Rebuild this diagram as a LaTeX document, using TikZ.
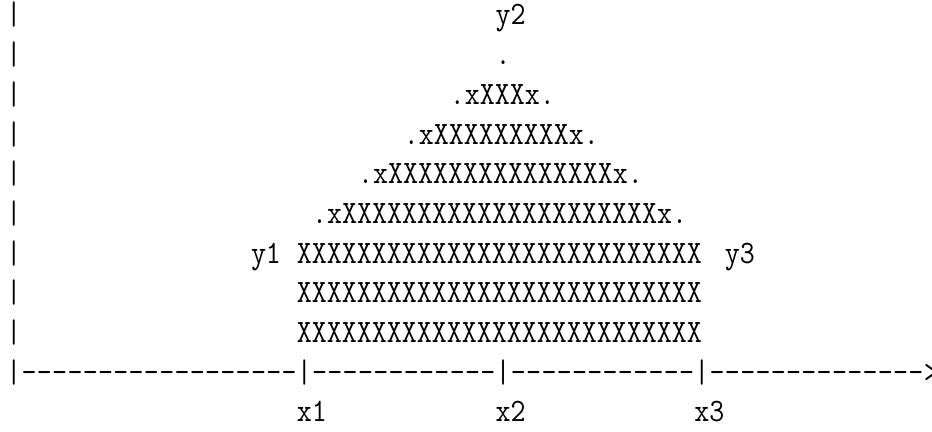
\documentclass[tikz,border=0pt]{standalone}
\usepackage{graphicx}
\newcommand\asciiat[4]{\node[asc] (#3) at ({3.18+7.645*#1},{-12.5-19.85*#2}) {\scalebox{1}[1.12]{#4}};}
\begin{document}
\begin{tikzpicture}[x=1pt,y=1pt,
  asc/.style={inner sep=0pt, outer sep=0pt, anchor=base west,
    font=\fontsize{14.56}{16}\selectfont\ttfamily}]
\useasboundingbox (0,0) rectangle (466,-216);
% left vertical bars
\foreach \r in {0,...,8} {\asciiat{0}{\r}{bar\r}{|}}
% triangle
\asciiat{32}{0}{ytwo}{y2}
\asciiat{32}{1}{apex}{.}
\asciiat{29}{2}{rowA}{.xXXXx.}
\asciiat{26}{3}{rowB}{.xXXXXXXXXXx.}
\asciiat{23}{4}{rowC}{.xXXXXXXXXXXXXXXXx.}
\asciiat{20}{5}{rowD}{.xXXXXXXXXXXXXXXXXXXXXXx.}
\asciiat{16}{6}{yone}{y1}
\asciiat{19}{6}{rowE}{XXXXXXXXXXXXXXXXXXXXXXXXXXX}
\asciiat{47}{6}{ythree}{y3}
\asciiat{19}{7}{rowF}{XXXXXXXXXXXXXXXXXXXXXXXXXXX}
\asciiat{19}{8}{rowG}{XXXXXXXXXXXXXXXXXXXXXXXXXXX}
% axis
\foreach \c in {0,19,32,45} {\asciiat{\c}{9}{tick\c}{|}}
\foreach \c in {1,...,18,20,21,...,31,33,34,...,44,46,47,...,59} {\asciiat{\c}{9}{dash\c}{-}}
\asciiat{60}{9}{arrowhead}{>}
% labels
\asciiat{19}{10}{xone}{x1}
\asciiat{32}{10}{xtwo}{x2}
\asciiat{45}{10}{xthree}{x3}
\end{tikzpicture}
\end{document}
